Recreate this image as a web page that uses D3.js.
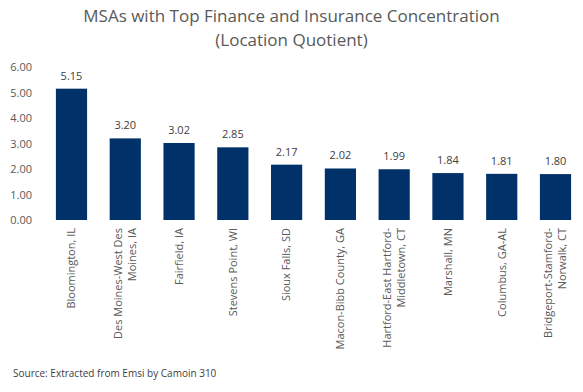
<!DOCTYPE html>
<html>
<head>
<meta charset="utf-8">
<script src="https://cdn.jsdelivr.net/npm/d3@7"></script>
<style>
  body { margin: 0; background: #fff; }
  svg { font-family: 'Segoe UI', 'Open Sans', sans-serif; }
</style>
</head>
<body>
<svg id="chart" width="583" height="392"></svg>
<script>
const categories = [
  ['Bloomington, IL'],
  ['Des Moines-West Des', 'Moines, IA'],
  ['Fairfield, IA'],
  ['Stevens Point, WI'],
  ['Sioux Falls, SD'],
  ['Macon-Bibb County, GA'],
  ['Hartford-East Hartford-', 'Middletown, CT'],
  ['Marshall, MN'],
  ['Columbus, GA-AL'],
  ['Bridgeport-Stamford-', 'Norwalk, CT']
];
const values = [5.15, 3.20, 3.02, 2.85, 2.17, 2.02, 1.99, 1.84, 1.81, 1.80];
const yTicks = [0, 1, 2, 3, 4, 5, 6];
const titleLines = ['MSAs with Top Finance and Insurance Concentration', '(Location Quotient)'];
const source = 'Source: Extracted from Emsi by Camoin 310';

const width = 583, height = 392;
const margin = { top: 67, bottom: 172, left: 44.6, right: 0.6 };
const grey = '#595959';
const barColor = '#003168';

const svg = d3.select('#chart');

const x_scale = d3
  .scaleBand()
  .domain(d3.range(values.length))
  .range([margin.left, width - margin.right])
  .paddingInner(0.42)
  .paddingOuter(0.21);

const y_scale = d3
  .scaleLinear()
  .domain([0, 6])
  .range([height - margin.bottom, margin.top]);

// Title
svg
  .append('g')
  .selectAll('text')
  .data(titleLines)
  .join('text')
  .attr('x', width / 2)
  .attr('y', (d, i) => 22 + i * 24)
  .attr('text-anchor', 'middle')
  .style('font-size', '17px')
  .style('fill', grey)
  .text(d => d);

// Y axis
svg
  .append('g')
  .attr('transform', 'translate(32, 0)')
  .call(d3.axisLeft(y_scale).tickValues(yTicks).tickSize(0).tickFormat(d3.format('.2f')))
  .call(g => g.select('.domain').remove())
  .selectAll('text')
  .attr('x', 0)
  .style('font-family', "'Segoe UI', 'Open Sans', sans-serif")
  .style('font-size', '11px')
  .style('fill', grey);

// Bars
svg
  .append('g')
  .attr('fill', barColor)
  .selectAll('rect')
  .data(values)
  .join('rect')
  .attr('x', (d, i) => x_scale(i))
  .attr('width', x_scale.bandwidth())
  .attr('y', d => y_scale(d))
  .attr('height', d => y_scale(0) - y_scale(d));

// Value labels
svg
  .append('g')
  .selectAll('text')
  .data(values)
  .join('text')
  .attr('x', (d, i) => x_scale(i) + x_scale.bandwidth() / 2)
  .attr('y', d => y_scale(d) - 9)
  .attr('text-anchor', 'middle')
  .style('font-size', '11px')
  .style('fill', '#404040')
  .text(d => d.toFixed(2));

// Category labels, rotated
const labels = svg
  .append('g')
  .selectAll('text')
  .data(categories)
  .join('text')
  .attr('transform', (d, i) => `translate(${x_scale(i) + x_scale.bandwidth() / 2}, ${y_scale(0) + 8}) rotate(-90)`)
  .attr('text-anchor', 'end')
  .style('font-size', '11px')
  .style('fill', grey);

labels
  .selectAll('tspan')
  .data(d => d.map((line, j) => ({ line, j, n: d.length })))
  .join('tspan')
  .attr('x', 0)
  .attr('y', d => (d.j - (d.n - 1) / 2) * 14)
  .attr('dy', '0.35em')
  .text(d => d.line);

// Source
svg
  .append('text')
  .attr('x', 13)
  .attr('y', 377)
  .style('font-size', '10px')
  .style('fill', '#404040')
  .text(source);
</script>
</body>
</html>
